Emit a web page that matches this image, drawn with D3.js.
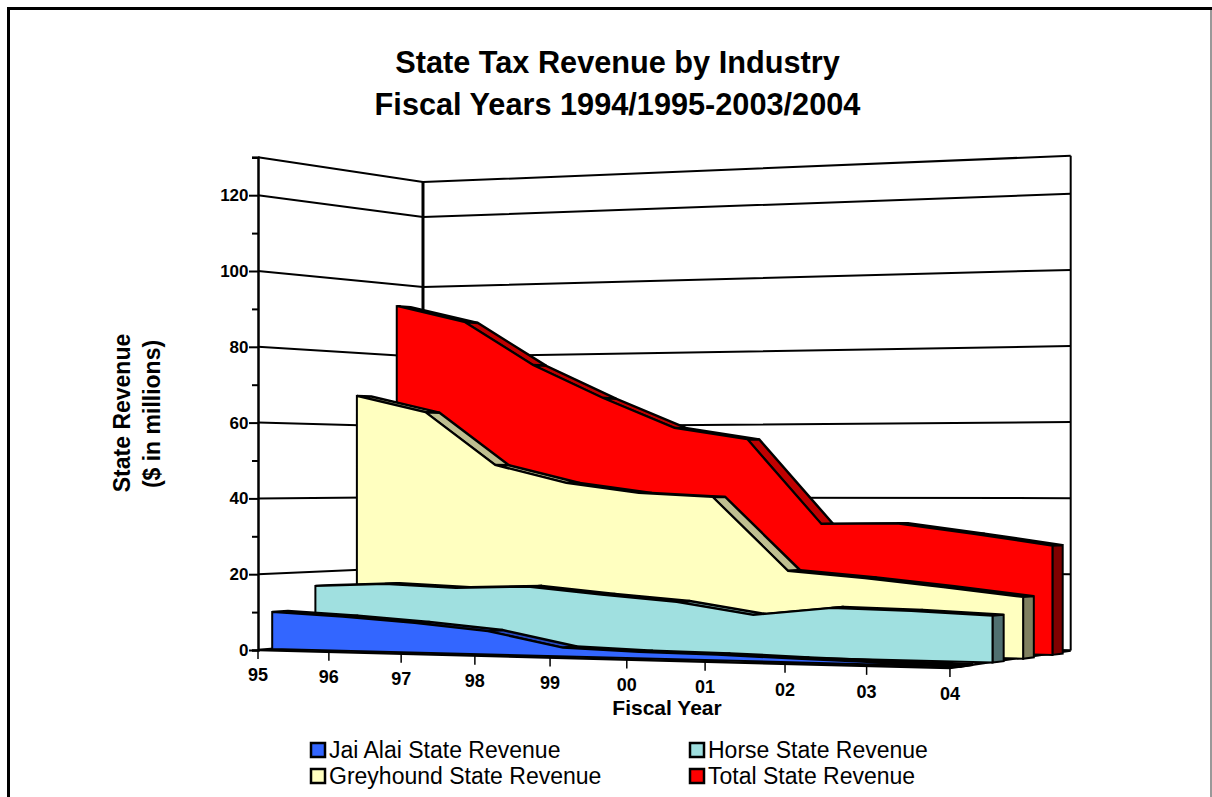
<!DOCTYPE html>
<html>
<head>
<meta charset="utf-8">
<script src="https://cdn.jsdelivr.net/npm/d3@7"></script>
<style>
html,body{margin:0;padding:0;background:#fff;overflow:hidden}
svg{display:block}
text{font-family:"Liberation Sans",Arial,sans-serif;fill:#000}
</style>
</head>
<body>
<svg id="chart" width="1212" height="797"></svg>
<script>
const categories = ["95","96","97","98","99","00","01","02","03","04"];
const jaiAlai   = [9.8, 8.9, 7.7, 6.0, 2.2, 1.6, 1.4, 0.9, 0.5, 0.3];
const horse     = [16.1, 17.0, 16.2, 16.9, 15.1, 13.6, 10.6, 12.8, 12.4, 11.6];
const greyhound = [68.1, 63.5, 49.0, 44.2, 41.6, 40.6, 21.4, 19.8, 17.8, 15.6];
const total     = [93.9, 89.1, 76.8, 67.5, 59.2, 56.1, 33.4, 33.7, 31.1, 28.3];
const seriesNames = ["Jai Alai State Revenue","Horse State Revenue","Greyhound State Revenue","Total State Revenue"];
const frontColors = ["#3366ff","#a0e0e0","#ffffc0","#ff0000"];
const topColors   = ["#2648bf","#78a8a8","#bfbf90","#c00000"];
const sideColors  = ["#19337f","#507070","#808060","#800000"];
const majorTicks = [0,20,40,60,80,100,120];

const seriesValues = [jaiAlai, horse, greyhound, total];
const svg = d3.select("#chart");

// category and depth scales on the unit floor, value scale on the front-left edge
const tScale = d3.scalePoint().domain(categories).range([0,1]);
const dScale = d3.scaleLinear().domain([0,4]).range([0,1]);
const vScale = d3.scaleLinear().domain([0,130]).range([650,157.3]);
const vPx = v => vScale(0) - vScale(v);

// perspective projection of (t, d, value) to the page
function project(t, d, v){
  const w = 1 - 0.087*t + 0.083*d;
  const x = (258 + 609.3*t + 200.1*d) / w;
  const y = (650 - 40.1*t + 39.9*d - vPx(v)) / w;
  return [x, y];
}
// the far right wall edge sits a touch up and left of the exact projection
const wallPt = (t, v) => { const p = project(t,1,v); return [p[0]-1*t, p[1]-2*t]; };
const poly = pts => "M" + pts.map(p => p[0].toFixed(2)+","+p[1].toFixed(2)).join("L") + "Z";
const path = pts => "M" + pts.map(p => p[0].toFixed(2)+","+p[1].toFixed(2)).join("L");

// outer frame, open at the bottom
svg.append("path").attr("d","M8.5,797V8.5H1212").attr("fill","none").attr("stroke","#000").attr("stroke-width",3);
svg.append("path").attr("d","M1211,10V797").attr("fill","none").attr("stroke","#777").attr("stroke-width",1.5);

// title
svg.append("text").attr("x",617.5).attr("y",73).attr("text-anchor","middle")
  .attr("font-size",30.7).attr("font-weight","bold").text("State Tax Revenue by Industry");
svg.append("text").attr("x",617.5).attr("y",115).attr("text-anchor","middle")
  .attr("font-size",30.7).attr("font-weight","bold").text("Fiscal Years 1994/1995-2003/2004");

// walls: gridlines and verticals
const wall = svg.append("g").attr("fill","none").attr("stroke","#000").attr("stroke-width",2);
[...majorTicks.slice(1), 130].forEach(v => {
  wall.append("path").attr("d", path([project(0,0,v),wallPt(0,v),wallPt(1,v)]));
});
wall.append("path").attr("d", path([wallPt(0,0),wallPt(0,130)])).attr("stroke-width",3);
wall.append("path").attr("d", path([wallPt(1,0),wallPt(1,130)]));
wall.append("path").attr("d", poly([project(0,0,0),project(1,0,0),wallPt(1,0),wallPt(0,0)])).attr("stroke-width",2.5);

// value axis
const yAxis = d3.axisLeft(vScale).tickValues(d3.range(0,131,10)).tickSize(6).tickPadding(3.5)
  .tickFormat(d => majorTicks.includes(d) ? d : "");
const yg = svg.append("g").attr("transform","translate(258,0)").call(yAxis);
yg.select(".domain").attr("stroke","#000").attr("stroke-width",2.5);
yg.selectAll(".tick line").attr("stroke","#000").attr("stroke-width",2)
  .filter(d => majorTicks.includes(d)).attr("x2",-9);
yg.selectAll(".tick text").attr("font-family","Liberation Sans").attr("font-size",17).attr("font-weight","bold");

// category ticks along the floor's front edge
const xg = svg.append("g");
categories.forEach(c => {
  const t = tScale(c), [x,y] = project(t,0,0);
  xg.append("line").attr("x1",x).attr("x2",x).attr("y1",y).attr("y2",y+9).attr("stroke","#000").attr("stroke-width",1.5);
  xg.append("text").attr("x",x).attr("y",y+25+6+t).attr("text-anchor","middle")
    .attr("font-size",18).attr("font-weight","bold").text(c);
});

// ribbons, back to front
const gap = 0.32, ribbon = 0.36;
[3,2,1,0].forEach(s => {
  const vals = seriesValues[s];
  const d0 = dScale(s + gap), d1 = dScale(s + gap + ribbon);
  const g = svg.append("g").attr("stroke","#000").attr("stroke-width",2).attr("stroke-linejoin","miter");
  // top surface, one slab per interval
  vals.slice(0,-1).forEach((v,i) => {
    const a = tScale(categories[i]), b = tScale(categories[i+1]);
    g.append("path").attr("fill",topColors[s]).attr("stroke-width",2.5)
      .attr("d", poly([project(a,d0,v),project(a,d1,v),project(b,d1,vals[i+1]),project(b,d0,vals[i+1])]));
  });
  // right end
  const last = vals[vals.length-1];
  g.append("path").attr("fill",sideColors[s])
    .attr("d", poly([project(1,d0,0),project(1,d1,0),project(1,d1,last),project(1,d0,last)]));
  // front face
  const top = vals.map((v,i) => project(tScale(categories[i]),d0,v));
  g.append("path").attr("fill",frontColors[s])
    .attr("d", poly([project(0,d0,0),...top,project(1,d0,0)]));
});

// axis titles
svg.append("text").attr("x",667).attr("y",714.5).attr("text-anchor","middle")
  .attr("font-size",21).attr("font-weight","bold").text("Fiscal Year");
svg.append("text").attr("transform","translate(130,413) rotate(-90)").attr("text-anchor","middle")
  .attr("font-size",23).attr("font-weight","bold").text("State Revenue");
svg.append("text").attr("transform","translate(160,414) rotate(-90)").attr("text-anchor","middle")
  .attr("font-size",23).attr("font-weight","bold").text("($ in millions)");

// legend
const legendCells = [[311,750,0],[690,750,1],[311,776,2],[690,776,3]];
legendCells.forEach(([x,y,s]) => {
  svg.append("rect").attr("x",x).attr("y",y-7).attr("width",14).attr("height",14)
    .attr("fill",frontColors[s]).attr("stroke","#000").attr("stroke-width",2.5);
  svg.append("text").attr("x",x+18).attr("y",y+8).attr("font-size",23).text(seriesNames[s]);
});
</script>
</body>
</html>
